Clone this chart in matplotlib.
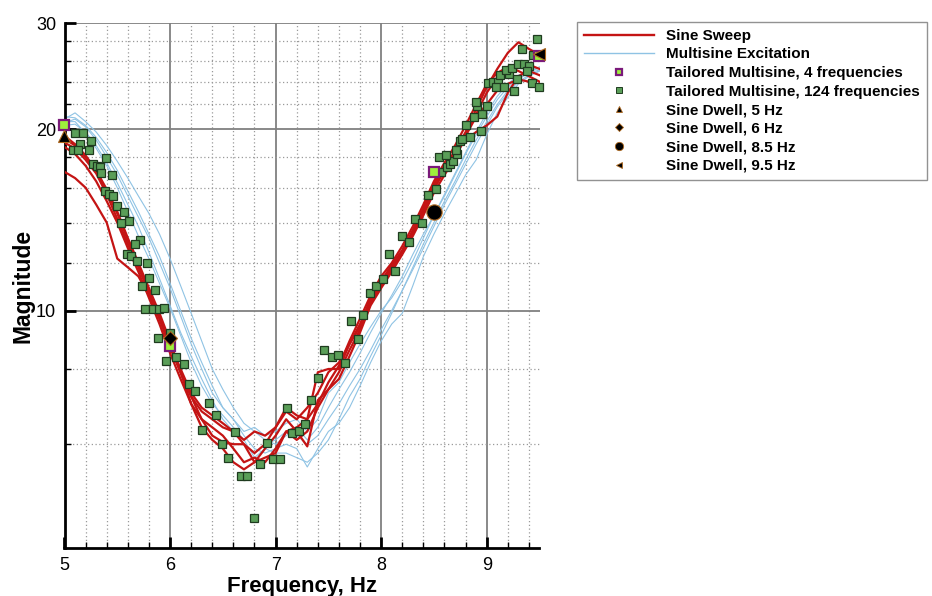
import matplotlib
matplotlib.use("Agg")
import matplotlib.pyplot as plt
from matplotlib.lines import Line2D
from matplotlib.ticker import FixedLocator, NullFormatter, FixedFormatter

plt.rcParams['font.family'] = ['Liberation Sans', 'DejaVu Sans']

# ---------------- data ----------------
freq_grid = [5.0, 5.1, 5.2, 5.3, 5.4, 5.5, 5.6, 5.7, 5.8, 5.9,
             6.0, 6.1, 6.2, 6.3, 6.4, 6.5, 6.6, 6.7, 6.8, 6.9,
             7.0, 7.1, 7.2, 7.3, 7.4, 7.5, 7.6, 7.7, 7.8, 7.9,
             8.0, 8.1, 8.2, 8.3, 8.4, 8.5, 8.6, 8.7, 8.8, 8.9,
             9.0, 9.1, 9.2, 9.3, 9.4, 9.5]

sweep_1 = [17.0, 16.6, 16.0, 15.0, 14.0, 12.2, 11.8, 11.4, 10.6, 9.7,
           8.7, 7.9, 7.2, 6.6, 6.2, 6.05, 6.0, 6.0, 5.8, 6.0,
           6.4, 6.8, 6.6, 6.9, 7.3, 7.9, 8.2, 8.8, 9.5, 10.4,
           11.1, 11.8, 12.5, 13.4, 14.6, 16.0, 17.2, 18.4, 19.8, 21.6,
           23.5, 25.2, 26.8, 27.9, 27.2, 26.6]
sweep_2 = [19.0, 18.6, 17.8, 16.9, 15.6, 14.2, 12.9, 11.8, 10.7, 9.7,
           8.7, 7.9, 7.2, 6.8, 6.6, 6.4, 6.3, 6.1, 6.3, 6.2,
           6.4, 6.9, 6.7, 6.6, 7.9, 8.0, 8.0, 8.8, 9.4, 10.5,
           11.2, 11.9, 12.6, 13.6, 14.8, 16.2, 17.4, 18.4, 19.6, 21.2,
           23.0, 24.4, 25.3, 25.7, 25.6, 25.2]
sweep_3 = [19.3, 18.8, 18.0, 17.0, 15.8, 14.5, 13.1, 11.9, 10.8, 9.8,
           8.8, 8.0, 7.3, 6.9, 6.7, 6.5, 6.3, 6.0, 5.6, 5.9,
           6.2, 6.6, 6.3, 5.95, 7.1, 7.4, 7.7, 8.4, 9.2, 10.2,
           10.9, 11.6, 12.4, 13.3, 14.4, 15.7, 16.8, 17.9, 19.5, 21.0,
           22.0, 23.2, 23.8, 24.2, 24.0, 23.6]
sweep_4 = [18.7, 18.2, 17.4, 16.4, 15.2, 14.0, 12.7, 11.6, 10.5, 9.5,
           8.5, 7.7, 7.0, 6.6, 6.4, 6.2, 5.9, 5.6, 5.7, 5.6,
           5.9, 6.3, 6.1, 6.3, 6.9, 7.4, 7.9, 8.6, 9.3, 10.3,
           11.0, 11.7, 12.5, 13.5, 14.6, 15.9, 17.1, 18.2, 19.2, 19.8,
           20.3, 21.0, 23.0, 24.5, 25.0, 24.6]
sweep_5 = [19.5, 18.9, 18.1, 17.1, 15.9, 14.6, 13.2, 12.0, 10.9, 9.9,
           8.9, 7.9, 7.0, 6.4, 6.1, 5.9, 5.6, 5.45, 5.6, 5.7,
           5.8, 6.3, 6.4, 6.6, 7.0, 7.6, 8.1, 8.9, 9.7, 10.6,
           11.4, 12.0, 12.8, 13.8, 15.0, 16.4, 17.6, 18.8, 20.3, 22.0,
           23.8, 24.8, 25.4, 25.0, 24.5, 24.0]
sweeps = [sweep_1, sweep_2, sweep_3, sweep_4, sweep_5]

multi_1 = [20.8, 21.3, 20.6, 19.8, 18.8, 17.7, 16.6, 15.5, 14.5, 13.4,
           12.2, 11.0, 9.9, 8.9, 8.0, 7.4, 6.9, 6.5, 6.3, 6.1,
           6.0, 6.2, 6.4, 6.1, 6.4, 6.9, 7.4, 7.9, 8.5, 9.2,
           9.9, 10.6, 11.4, 12.4, 13.4, 14.4, 15.5, 16.8, 18.2, 19.6,
           21.0, 22.4, 23.5, 24.3, 24.8, 25.1]
multi_2 = [20.5, 20.8, 20.2, 19.2, 18.0, 16.8, 15.5, 14.3, 13.2, 12.0,
           10.9, 9.8, 8.8, 8.0, 7.3, 6.9, 6.6, 6.2, 5.9, 5.8,
           5.9, 6.0, 5.9, 5.5, 5.9, 6.3, 6.5, 6.9, 7.5, 8.2,
           8.9, 9.5, 9.9, 11.0, 12.3, 13.4, 14.5, 15.6, 16.8, 17.8,
           19.6, 21.3, 22.6, 23.8, 24.5, 25.0]
multi_3 = [21.0, 20.9, 20.3, 19.4, 18.3, 17.1, 15.8, 14.6, 13.4, 12.3,
           11.1, 10.0, 9.0, 8.2, 7.5, 6.9, 6.6, 6.3, 6.4, 6.2,
           6.3, 6.5, 6.6, 6.3, 6.6, 7.3, 7.6, 8.2, 8.8, 9.4,
           10.0, 10.5, 11.2, 12.1, 13.2, 14.4, 15.6, 16.9, 18.3, 19.8,
           21.3, 22.7, 23.8, 24.6, 25.0, 25.4]
multi_4 = [20.3, 20.4, 19.8, 18.8, 17.6, 16.3, 15.0, 13.8, 12.5, 11.3,
           10.2, 9.2, 8.4, 7.7, 7.1, 6.6, 6.3, 6.0, 5.8, 6.0,
           6.1, 6.3, 6.2, 6.0, 6.2, 6.6, 7.0, 7.5, 8.0, 8.6,
           9.3, 10.0, 10.8, 11.7, 12.7, 13.8, 15.0, 16.2, 17.5, 18.9,
           20.3, 21.8, 23.0, 24.0, 24.6, 25.0]
multi_5 = [20.6, 20.6, 19.7, 18.6, 17.4, 16.0, 14.6, 13.3, 12.2, 11.1,
           10.1, 9.1, 8.2, 7.5, 7.0, 6.7, 6.4, 6.1, 5.7, 5.9,
           5.8, 5.8, 5.7, 5.6, 5.8, 6.1, 6.6, 7.2, 7.7, 8.4,
           9.1, 9.9, 10.8, 11.8, 12.9, 14.0, 15.2, 16.4, 17.8, 19.2,
           20.6, 22.0, 23.2, 24.2, 24.9, 25.3]
multis = [multi_1, multi_2, multi_3, multi_4, multi_5]

tm124_freq = [5.10, 5.18, 5.15, 5.25, 5.08, 5.13, 5.23, 5.39, 5.27, 5.31,
              5.34, 5.35, 5.45, 5.38, 5.42, 5.46, 5.50, 5.56, 5.61, 5.54,
              5.72, 5.67, 5.59, 5.63, 5.69, 5.78, 5.80, 5.73, 5.86, 5.76,
              5.84, 5.90, 5.94, 5.89, 6.00, 5.96, 6.06, 6.13, 6.18, 6.24,
              6.37, 6.44, 6.30, 6.62, 6.49, 6.92, 6.55, 6.85, 6.98, 7.04,
              6.67, 6.73, 6.80, 7.11, 7.16, 7.22, 7.28, 7.34, 7.40, 7.46,
              7.53, 7.59, 7.66, 7.78, 7.71, 7.83, 7.89, 7.95, 8.02, 8.07,
              8.13, 8.20, 8.26, 8.32, 8.39, 8.44, 8.52, 8.57, 8.62, 8.65,
              8.68, 8.55, 8.61, 8.72, 8.71, 8.75, 8.77, 8.84, 8.80, 8.95,
              8.88, 8.96, 8.91, 8.90, 9.00, 9.01, 9.06, 9.11, 9.09, 9.16,
              9.13, 9.21, 9.18, 9.24, 9.29, 9.26, 9.30, 9.35, 9.40, 9.38,
              9.33, 9.43, 9.50, 9.48, 9.44]
tm124_mag = [19.7, 19.7, 18.9, 19.1, 18.5, 18.5, 18.5, 17.9, 17.5, 17.4,
             17.3, 16.9, 16.8, 15.8, 15.6, 15.5, 14.9, 14.6, 14.1, 14.0,
             13.1, 12.9, 12.4, 12.3, 12.1, 12.0, 11.35, 11.0, 10.8, 10.05,
             10.05, 10.05, 10.1, 9.0, 9.17, 8.25, 8.39, 8.16, 7.54, 7.35,
             7.03, 6.70, 6.34, 6.29, 6.01, 6.02, 5.70, 5.57, 5.68, 5.68,
             5.31, 5.32, 4.52, 6.90, 6.27, 6.32, 6.47, 7.11, 7.74, 8.61,
             8.39, 8.44, 8.18, 8.98, 9.60, 9.85, 10.7, 10.97, 11.3, 12.4,
             11.65, 13.3, 13.0, 14.2, 14.0, 15.55, 15.9, 17.0, 17.3, 17.5,
             17.7, 18.0, 18.1, 18.2, 18.5, 19.1, 19.3, 19.4, 20.3, 19.9,
             21.0, 21.2, 21.9, 22.2, 21.9, 23.9, 24.0, 24.0, 23.5, 23.5,
             24.6, 24.7, 25.1, 25.3, 24.2, 23.2, 25.7, 25.7, 25.5, 25.0,
             27.2, 23.9, 23.5, 28.2, 26.6]

tm4_freq = [5.0, 6.0, 8.5, 9.5]
tm4_mag = [20.3, 8.72, 17.0, 26.5]

dwell_labels = ["Sine Dwell, 5 Hz", "Sine Dwell, 6 Hz", "Sine Dwell, 8.5 Hz", "Sine Dwell, 9.5 Hz"]
dwell_freq = [5.0, 6.0, 8.5, 9.5]
dwell_mag = [19.5, 9.0, 14.6, 26.7]

x_ticks = [5, 6, 7, 8, 9]
y_ticks = [10, 20, 30]
y_minor = [6, 8, 12, 14, 16, 18, 22, 24, 26, 28]

# ---------------- styles ----------------
RED = '#c41414'
BLUE = '#8fc3e4'
GREEN = '#5a9e58'
GREEN_EDGE = '#1f3b1f'
LIME = '#9ef03c'
PURPLE = '#7a1a7a'

fig = plt.figure(figsize=(9.32, 5.96), dpi=100)
ax = fig.add_axes([64.5 / 932, 1 - 548.3 / 596, 475 / 932, 525 / 596])

for m in multis:
    ax.plot(freq_grid, m, color=BLUE, lw=0.8, zorder=2)
for s in sweeps:
    ax.plot(freq_grid, s, color=RED, lw=1.6, zorder=3)

ax.plot(tm124_freq, tm124_mag, ls='none', marker='s', ms=6, mfc=GREEN,
        mec=GREEN_EDGE, mew=0.9, zorder=4, clip_on=False)
ax.plot(tm4_freq, tm4_mag, ls='none', marker='s', ms=7.5, mfc=LIME,
        mec=PURPLE, mew=1.6, zorder=5, clip_on=False)

dwell_markers = ['^', 'D', 'o', '<']
dwell_sizes = [8, 7, 11, 8]
for lab, f, mg, mk, sz in zip(dwell_labels, dwell_freq, dwell_mag, dwell_markers, dwell_sizes):
    ax.plot([f], [mg], ls='none', marker=mk, ms=sz, mfc='black', mec='#b06a20',
            mew=0.8, zorder=6, clip_on=False)

ax.set_yscale('log')
ax.set_xlim(5, 9.5)
ax.set_ylim(4.03, 30)

ax.yaxis.set_major_locator(FixedLocator(y_ticks))
ax.yaxis.set_major_formatter(FixedFormatter([str(v) for v in y_ticks]))
ax.yaxis.set_minor_locator(FixedLocator(y_minor))
ax.yaxis.set_minor_formatter(NullFormatter())
ax.xaxis.set_major_locator(FixedLocator(x_ticks))
ax.xaxis.set_major_formatter(FixedFormatter([str(v) for v in x_ticks]))
ax.xaxis.set_minor_locator(FixedLocator([5.2, 5.4, 5.6, 5.8, 6.2, 6.4, 6.6, 6.8,
                                         7.2, 7.4, 7.6, 7.8, 8.2, 8.4, 8.6, 8.8,
                                         9.2, 9.4]))

ax.grid(True, which='major', color='#808080', lw=1.3, ls='-', zorder=0)
ax.grid(True, which='minor', color='#9a9a9a', lw=0.9, ls=(0, (1, 2)), zorder=0)
ax.set_axisbelow(True)

for side in ['top', 'right']:
    ax.spines[side].set_visible(False)
for side in ['left', 'bottom']:
    ax.spines[side].set_linewidth(2.0)
    ax.spines[side].set_color('black')

ax.tick_params(which='major', direction='in', length=8, width=2.0, labelsize=13,
               colors='black')
ax.tick_params(which='minor', direction='in', length=4, width=1.0)
ax.tick_params(axis='y', which='major', pad=6)
ax.tick_params(axis='x', which='major', pad=6)

ax.set_xlabel('Frequency, Hz', fontsize=16, fontweight='bold', labelpad=2)
ax.set_ylabel('Magnitude', fontsize=16.5, fontweight='bold', labelpad=1)

handles = [
    Line2D([], [], color=RED, lw=1.7),
    Line2D([], [], color=BLUE, lw=1.0),
    Line2D([], [], ls='none', marker='s', ms=5, mfc=LIME, mec=PURPLE, mew=1.6),
    Line2D([], [], ls='none', marker='s', ms=4, mfc=GREEN, mec=GREEN_EDGE, mew=0.7),
    Line2D([], [], ls='none', marker='^', ms=5, mfc='black', mec='#b06a20', mew=0.6),
    Line2D([], [], ls='none', marker='D', ms=4.5, mfc='black', mec='#b06a20', mew=0.6),
    Line2D([], [], ls='none', marker='o', ms=6, mfc='black', mec='#b06a20', mew=0.6),
    Line2D([], [], ls='none', marker='<', ms=5, mfc='black', mec='#b06a20', mew=0.6),
]
labels = ['Sine Sweep', 'Multisine Excitation', 'Tailored Multisine, 4 frequencies',
          'Tailored Multisine, 124 frequencies'] + dwell_labels
leg = fig.legend(handles, labels, loc='upper left', bbox_to_anchor=(577 / 932, 1 - 22 / 596),
                 prop={'weight': 'bold', 'size': 11}, frameon=True, fancybox=False,
                 edgecolor='#777777', borderpad=0.45, labelspacing=0.3,
                 handlelength=4.6, handletextpad=0.8, borderaxespad=0, numpoints=1)
leg.get_frame().set_linewidth(1.0)

fig.savefig('out.png', dpi=100)
